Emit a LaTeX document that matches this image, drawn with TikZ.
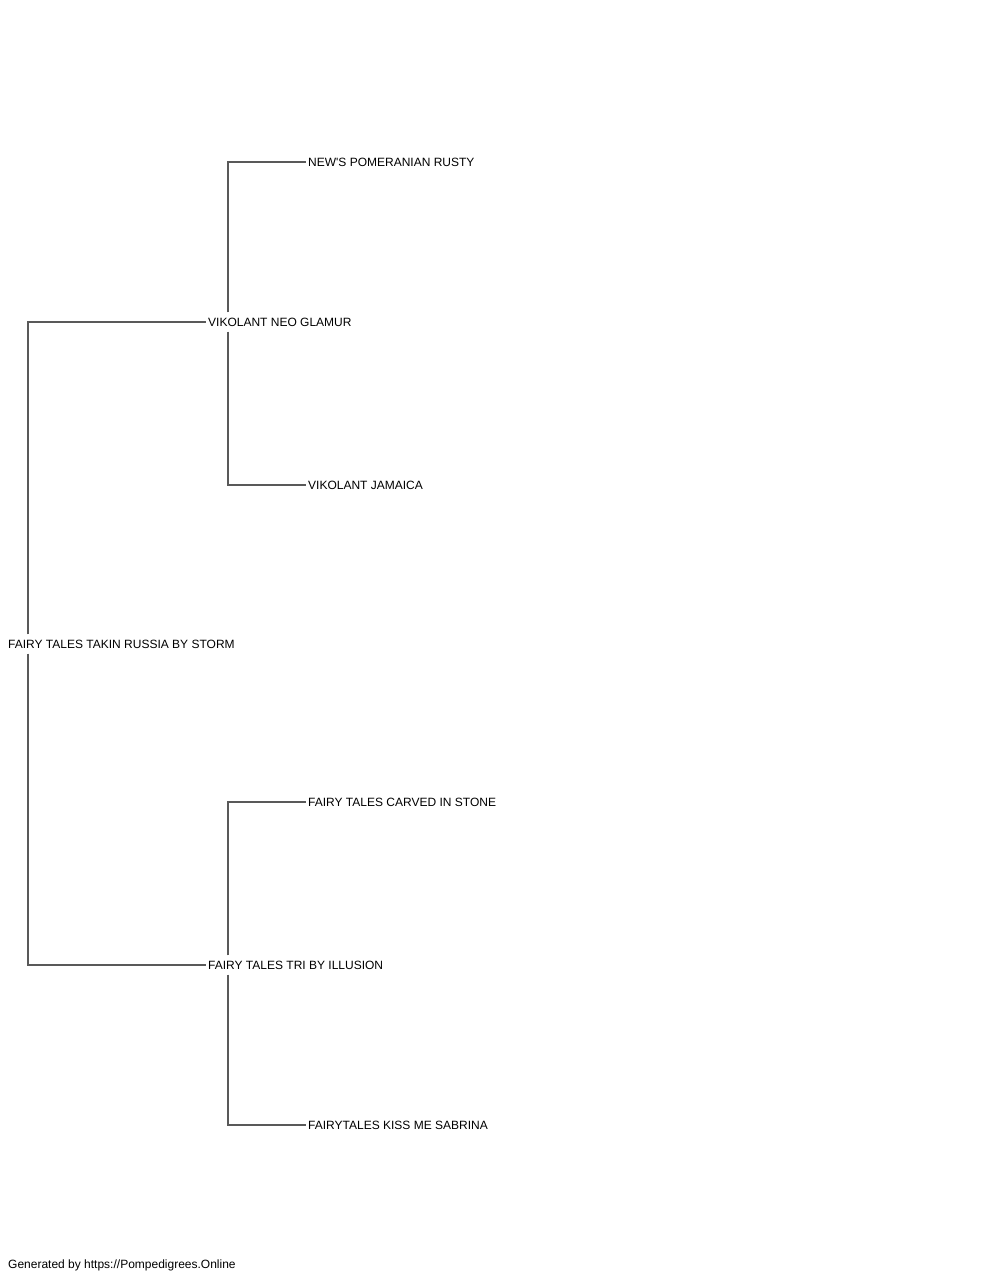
\documentclass[tikz,border=0pt]{standalone}
\usepackage{fontspec}
\setmainfont{Liberation Sans}[Ligatures=TeXOff]
\begin{document}
\begin{tikzpicture}[x=1pt,y=-1pt,
  lbl/.style={anchor=west,inner xsep=2pt,inner ysep=4pt,text height=10pt,text depth=1pt,font=\fontsize{12}{14}\selectfont,text=black},
  conn/.style={draw=black!65,line width=1.4pt}]
\useasboundingbox[fill=white] (0,0) rectangle (1000,1280);
\node[lbl] (root) at (6,644) {FAIRY TALES TAKIN RUSSIA BY STORM};
\node[lbl] (vik) at (206,322) {VIKOLANT NEO GLAMUR};
\node[lbl] (tri) at (206,965) {FAIRY TALES TRI BY ILLUSION};
\node[lbl] (news) at (306,162) {NEW'S POMERANIAN RUSTY};
\node[lbl] (jam) at (306,485) {VIKOLANT JAMAICA};
\node[lbl] (carved) at (306,802) {FAIRY TALES CARVED IN STONE};
\node[lbl] (kiss) at (306,1125) {FAIRYTALES KISS ME SABRINA};
\node[lbl] (footer) at (6,1264) {Generated by https://Pompedigrees.Online};
\draw[conn] ([xshift=22pt]root.north west) |- (vik.west);
\draw[conn] ([xshift=22pt]root.south west) |- (tri.west);
\draw[conn] ([xshift=22pt]vik.north west) |- (news.west);
\draw[conn] ([xshift=22pt]vik.south west) |- (jam.west);
\draw[conn] ([xshift=22pt]tri.north west) |- (carved.west);
\draw[conn] ([xshift=22pt]tri.south west) |- (kiss.west);
\end{tikzpicture}
\end{document}
